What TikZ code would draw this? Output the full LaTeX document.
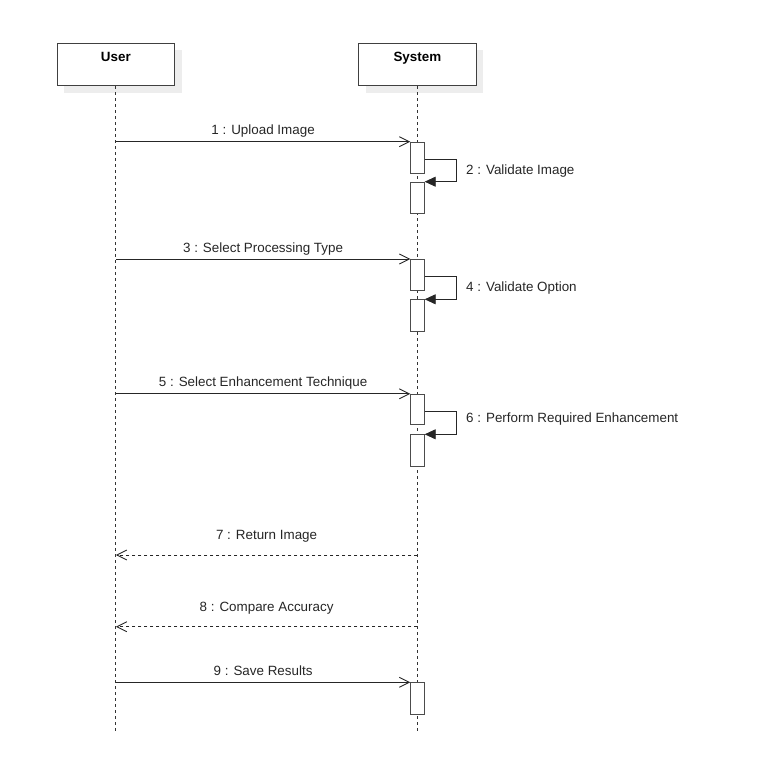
\documentclass[tikz,border=0pt]{standalone}
\usepackage{fontspec}
\setmainfont{Liberation Sans}
\usetikzlibrary{arrows.meta,shadows}
\begin{document}
\begin{tikzpicture}[x=1pt,y=-1pt,
  font=\fontsize{13.4}{16}\selectfont,
  head/.style={draw=black!75, line width=0.9pt, fill=white,
    minimum width=117.7pt, minimum height=42.4pt, inner xsep=2pt, inner ysep=8.3pt,
    text height=9.7pt, text depth=16.1pt, font=\fontsize{13.4}{16}\selectfont\bfseries,
    general shadow={fill=black!7, shadow xshift=7pt, shadow yshift=-7pt}},
  act/.style={draw=black!70, line width=0.8pt, fill=white, minimum width=13.6pt,
    inner sep=0pt, anchor=north},
  lifeline/.style={draw=black!80, line width=0.8pt, dash pattern=on 3pt off 3pt},
  msg/.style={draw=black!85, line width=0.9pt, -{Straight Barb[length=10pt,width=10pt]}},
  ret/.style={msg, dash pattern=on 3pt off 3pt},
  selfmsg/.style={draw=black!85, line width=0.9pt, -{Triangle[length=11pt,width=10pt]}},
  lbl/.style={inner sep=0pt, text=black!85},
  mlbl/.style={lbl, anchor=base, pos=0.5, yshift=7pt},
  rlbl/.style={lbl, anchor=base, pos=0.5, yshift=15.5pt},
  slbl/.style={lbl, anchor=base west}
]
\useasboundingbox (0,0) rectangle (756,776);

% headers
\node[head] (user) at (115.85,64.5) {User};
\node[head] (system) at (417.35,64.5) {System};

% lifelines
\coordinate (uend) at (115.85,731.7);
\coordinate (send) at (417.35,731.7);
\draw[lifeline] (user.south) -- (uend);
\draw[lifeline] (system.south) -- (send);

% activations
\node[act, minimum height=31.6pt] (a1) at (417.5,141.7) {};
\node[act, minimum height=31pt]   (a2) at (417.5,181.7) {};
\node[act, minimum height=30.5pt] (a3) at (417.5,259) {};
\node[act, minimum height=31.7pt] (a4) at (417.5,299.3) {};
\node[act, minimum height=30.5pt] (a5) at (417.5,393.8) {};
\node[act, minimum height=31.7pt] (a6) at (417.5,434.3) {};
\node[act, minimum height=31.7pt] (a9) at (417.5,682.3) {};

% messages
\draw[msg] (user.south |- a1.north) -- node[mlbl] (l1) {1 : Upload Image} (a1.north west);
\draw[selfmsg] ([yshift=-17.8pt]a1.north east) -- ++(32,0) |- (a2.north east);
\node[slbl] (l2) at (466,174) {2 : Validate Image};

\draw[msg] (user.south |- a3.north) -- node[mlbl] (l3) {3 : Select Processing Type} (a3.north west);
\draw[selfmsg] ([yshift=-17.7pt]a3.north east) -- ++(32,0) |- (a4.north east);
\node[slbl] (l4) at (466,291) {4 : Validate Option};

\draw[msg] (user.south |- a5.north) -- node[mlbl] (l5) {5 : Select Enhancement Technique} (a5.north west);
\draw[selfmsg] ([yshift=-17.9pt]a5.north east) -- ++(32,0) |- (a6.north east);
\node[slbl] (l6) at (466,422.3) {6 : Perform Required Enhancement};

\coordinate (s7) at (417.35,555);
\coordinate (u7) at (115.85,555);
\draw[ret] (s7) -- node[rlbl] (l7) {7 : Return Image} (u7);

\coordinate (s8) at (417.35,626.7);
\coordinate (u8) at (115.85,626.7);
\draw[ret] (s8) -- node[rlbl] (l8) {8 : Compare Accuracy} (u8);

\draw[msg] (user.south |- a9.north) -- node[mlbl] (l9) {9 : Save Results} (a9.north west);
\end{tikzpicture}
\end{document}
